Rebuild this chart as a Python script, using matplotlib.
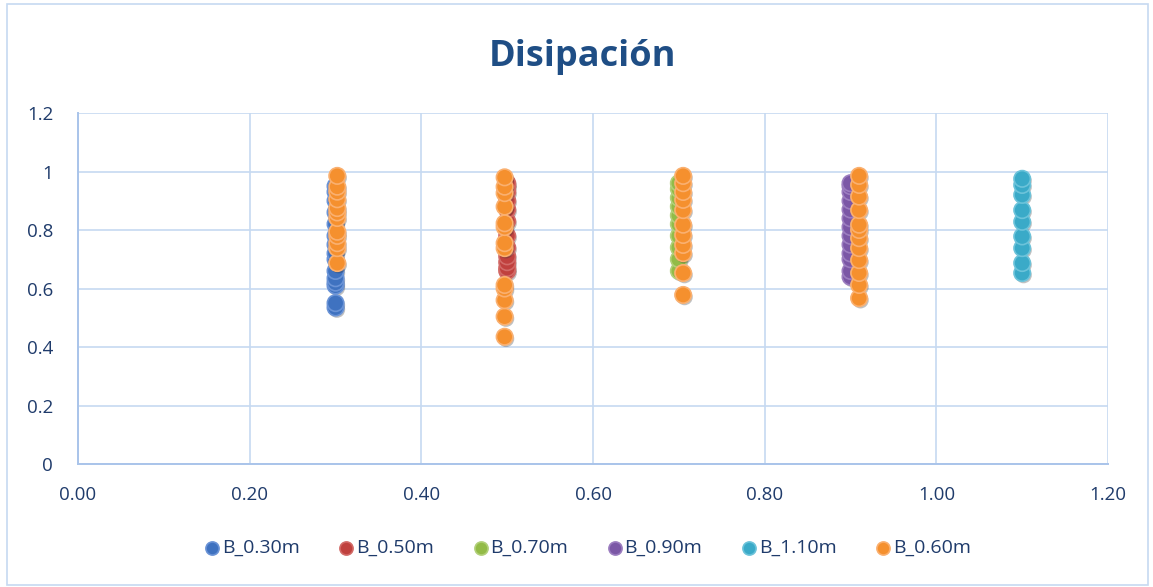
import matplotlib.pyplot as plt
import matplotlib.patheffects as pe
from matplotlib.patches import Rectangle

# series data
b030_x = [0.30] * 15
b030_y = [0.535, 0.55, 0.61, 0.62, 0.635, 0.66, 0.70, 0.72, 0.75, 0.78, 0.82, 0.86, 0.90, 0.93, 0.95]
b050_x = [0.50] * 12
b050_y = [0.66, 0.67, 0.69, 0.71, 0.74, 0.78, 0.83, 0.87, 0.90, 0.93, 0.95, 0.96]
b070_x = [0.70] * 10
b070_y = [0.66, 0.70, 0.74, 0.78, 0.82, 0.85, 0.88, 0.91, 0.94, 0.96]
b090_x = [0.90] * 13
b090_y = [0.64, 0.66, 0.70, 0.72, 0.75, 0.78, 0.81, 0.84, 0.87, 0.90, 0.93, 0.95, 0.96]
b110_x = [1.10] * 9
b110_y = [0.653, 0.687, 0.738, 0.778, 0.828, 0.868, 0.92, 0.954, 0.975]
b060_x = ([0.302] * 12) + ([0.497] * 13) + ([0.705] * 11) + ([0.91] * 12)
b060_y = ([0.687, 0.738, 0.755, 0.78, 0.794, 0.841, 0.86, 0.875, 0.905, 0.931, 0.948, 0.985]
          + [0.435, 0.504, 0.56, 0.60, 0.612, 0.738, 0.755, 0.81, 0.823, 0.88, 0.926, 0.948, 0.98]
          + [0.578, 0.653, 0.721, 0.749, 0.783, 0.818, 0.868, 0.903, 0.93, 0.96, 0.985]
          + [0.567, 0.612, 0.653, 0.697, 0.738, 0.772, 0.80, 0.818, 0.868, 0.914, 0.954, 0.985])

labels = ["B_0.30m", "B_0.50m", "B_0.70m", "B_0.90m", "B_1.10m", "B_0.60m"]
xs = [b030_x, b050_x, b070_x, b090_x, b110_x, b060_x]
ys = [b030_y, b050_y, b070_y, b090_y, b110_y, b060_y]
colors = ["#3F72C0", "#C0413E", "#93BB47", "#7B57A6", "#3AAAC8", "#F5902E"]
edges = ["#6A93D6", "#D26A67", "#B2D07A", "#9C7EC0", "#6CC3DA", "#FAB070"]

txt = "#1F3B6B"
grid = "#C6D9F1"

fig = plt.figure(figsize=(11.53, 5.87), dpi=100)
fig.patches.append(Rectangle((0.006, 0.004), 0.99, 0.99, transform=fig.transFigure,
                             fill=False, edgecolor="#C6D9F1", linewidth=1.2))
ax = fig.add_axes([0.0677, 0.2095, 0.8933, 0.598])

shadow = [pe.SimplePatchShadow(offset=(1, -1.5), shadow_rgbFace="#333333", alpha=0.3), pe.Normal()]
for x, y, c, ec, lab in zip(xs, ys, colors, edges, labels):
    sc = ax.scatter(x, y, s=140, color=c, edgecolors=ec, linewidths=1.2, label=lab, zorder=3)
    sc.set_path_effects(shadow)

ax.set_xlim(0, 1.2)
ax.set_ylim(0, 1.2)
ax.set_xticks([0, 0.2, 0.4, 0.6, 0.8, 1.0, 1.2])
ax.set_xticklabels(["0.00", "0.20", "0.40", "0.60", "0.80", "1.00", "1.20"])
ax.set_yticks([0, 0.2, 0.4, 0.6, 0.8, 1.0, 1.2])
ax.set_yticklabels(["0", "0.2", "0.4", "0.6", "0.8", "1", "1.2"])
ax.grid(True, color=grid, linewidth=1.2, zorder=0)
ax.set_axisbelow(True)
for side in ["top", "right"]:
    ax.spines[side].set_visible(False)
for side in ["left", "bottom"]:
    ax.spines[side].set_color("#A9C4EA")
    ax.spines[side].set_linewidth(1.4)
ax.tick_params(axis="both", colors=txt, labelsize=13.5, length=0)
ax.tick_params(axis="x", pad=16)
ax.tick_params(axis="y", pad=18)
for t in ax.get_xticklabels() + ax.get_yticklabels():
    t.set_family("Open Sans")

fig.text(0.505, 0.903, "Disipación", ha="center", va="center", fontsize=26,
         fontweight="bold", color="#1F4E85", family="Open Sans")

leg = fig.legend(loc="center", bbox_to_anchor=(0.508, 0.066), ncol=6, frameon=False,
                 prop={"family": "Open Sans", "size": 14}, handletextpad=-0.1,
                 columnspacing=1.8, markerscale=0.8, handlelength=1.2)
for t in leg.get_texts():
    t.set_color(txt)
for h in leg.legend_handles:
    h.set_path_effects([])

fig.savefig("out.png", dpi=100)
